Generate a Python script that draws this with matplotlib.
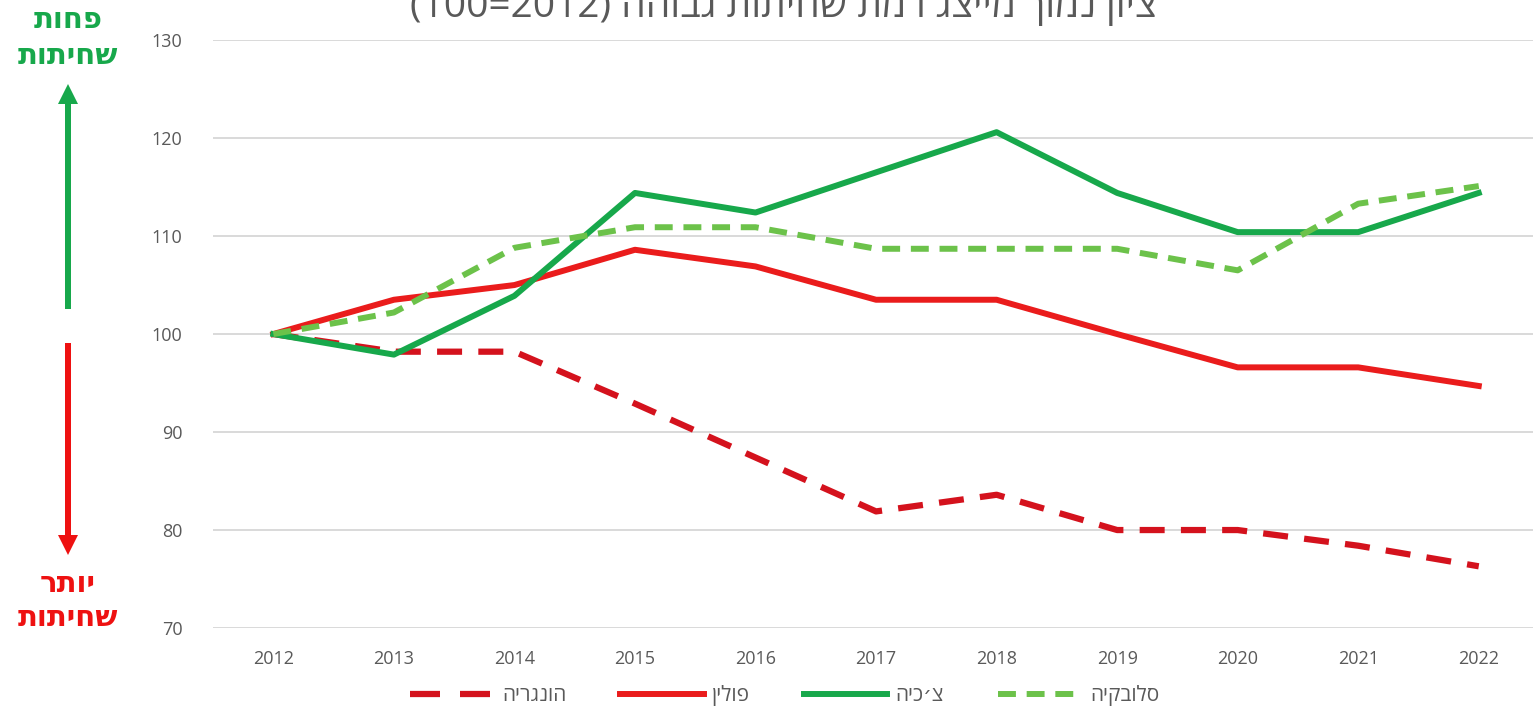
import matplotlib
matplotlib.use("Agg")
import matplotlib.pyplot as plt

# data (index, 2012 = 100)
years = [2012, 2013, 2014, 2015, 2016, 2017, 2018, 2019, 2020, 2021, 2022]
hungary = [100, 98.2, 98.2, 92.9, 87.4, 81.9, 83.6, 80.0, 80.0, 78.4, 76.3]
poland = [100, 103.5, 105.0, 108.6, 106.9, 103.5, 103.5, 100.0, 96.6, 96.6, 94.7]
czechia = [100, 97.9, 103.9, 114.4, 112.4, 116.5, 120.6, 114.4, 110.4, 110.4, 114.4]
slovakia = [100, 102.2, 108.8, 110.9, 110.9, 108.7, 108.7, 108.7, 106.5, 113.3, 115.1]

labels = ["הונגריה", "פולין", "צ׳כיה", "סלובקיה"]
yticks = [70, 80, 90, 100, 110, 120, 130]

title = "ציון נמוך מייצג רמת שחיתות גבוהה"
up_txt = ["פחות", "שחיתות"]
down_txt = ["יותר", "שחיתות"]


def heb(s):
    # matplotlib has no bidi support, so flip to visual order by hand
    return s[::-1]


plt.rcParams["font.family"] = ["Open Sans", "DejaVu Sans"]

GRAY = "#595959"
RED_D = "#d4121d"
RED = "#ea1c1c"
GREEN = "#17a84b"
LGREEN = "#6cc24a"
ARROW_RED = "#ee1111"

fig = plt.figure(figsize=(15.33, 7.14), dpi=100)
ax = fig.add_axes([0.139, 0.1204, 0.861, 0.8235])

ax.plot(years, hungary, color=RED_D, lw=4.5, dashes=(4, 2.6), label=heb(labels[0]))
ax.plot(years, poland, color=RED, lw=4.3, label=heb(labels[1]))
ax.plot(years, czechia, color=GREEN, lw=4.3, label=heb(labels[2]))
ax.plot(years, slovakia, color=LGREEN, lw=4.3, dashes=(3, 1.8), label=heb(labels[3]))

ax.set_xlim(2011.5, 2022.45)
ax.set_ylim(70, 130)
ax.set_yticks(yticks)
ax.set_xticks(years)
ax.grid(axis="y", color="#d9d9d9", lw=1.4)
ax.set_axisbelow(True)
for sp in ax.spines.values():
    sp.set_visible(False)
ax.tick_params(axis="both", length=0, labelsize=13, labelcolor=GRAY)
ax.tick_params(axis="y", pad=22)
ax.tick_params(axis="x", pad=16)

leg = ax.legend(loc="center", bbox_to_anchor=(0.433, -0.115), ncol=4,
                frameon=False, fontsize=15, handlelength=4.0, columnspacing=2.6,
                handletextpad=0.4)
for t in leg.get_texts():
    t.set_color(GRAY)
# two long dashes for the Hungary key, like the source
leg.get_lines()[0].set_dashes((4.8, 3.2))

# title, partly cut off at the top as in the source image
fig.text(0.511, 1 - 17 / 714, "(100=2012) " + heb(title), ha="center",
         va="baseline", fontsize=28, color=GRAY)

# side arrows, drawn in pixel coordinates of the figure
ax_l = fig.add_axes([0, 0, 1, 1], facecolor="none")
ax_l.set_xlim(0, 1533)
ax_l.set_ylim(714, 0)
ax_l.axis("off")
ax_l.arrow(68, 309, 0, -225, width=6, head_width=20, head_length=20,
           length_includes_head=True, color=GREEN, lw=0)
ax_l.arrow(68, 343, 0, 212, width=6, head_width=20, head_length=20,
           length_includes_head=True, color=ARROW_RED, lw=0)
ax_l.text(68, 20, heb(up_txt[0]), ha="center", va="center", fontsize=21,
          fontweight="bold", color=GREEN)
ax_l.text(68, 56, heb(up_txt[1]), ha="center", va="center", fontsize=21,
          fontweight="bold", color=GREEN)
ax_l.text(68, 584, heb(down_txt[0]), ha="center", va="center", fontsize=21,
          fontweight="bold", color=ARROW_RED)
ax_l.text(68, 618, heb(down_txt[1]), ha="center", va="center", fontsize=21,
          fontweight="bold", color=ARROW_RED)

fig.savefig("out.png", dpi=100, facecolor="white")
